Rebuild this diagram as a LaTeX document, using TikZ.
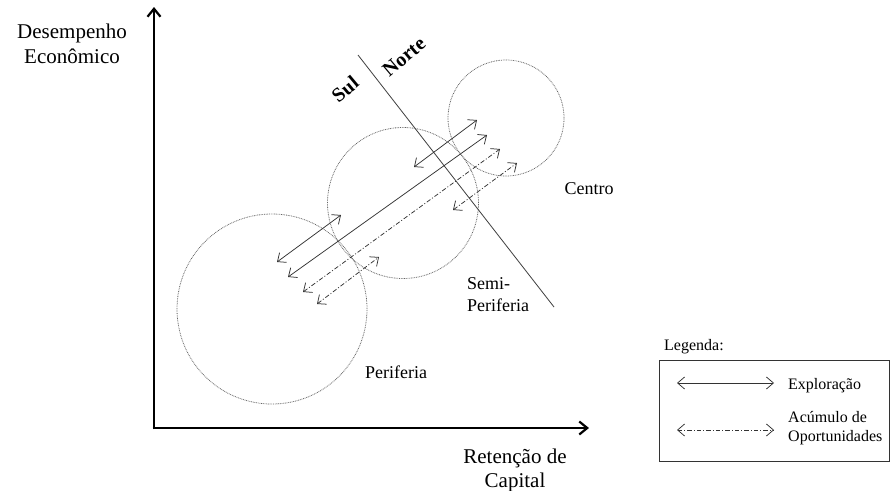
\documentclass[tikz,border=0pt]{standalone}
\usepackage{fontspec}
\setmainfont{Liberation Serif}
\usetikzlibrary{arrows.meta}
\begin{document}
\begin{tikzpicture}[x=1pt,y=-1pt,
  axis/.style={line width=2.6pt, -{Straight Barb[length=8pt,width=13pt,line width=2.2pt]}},
  ring/.style={circle, draw=black!60, line width=0.8pt, dash pattern=on 0.8pt off 0.9pt, inner sep=0},
  expl/.style={draw=black!80, line width=0.75pt, {Straight Barb[length=7pt,width=12pt]}-{Straight Barb[length=7pt,width=12pt]}},
  acum/.style={expl, dash pattern=on 4.5pt off 2pt on 1pt off 2pt},
  big/.style={font=\fontsize{21}{25}\selectfont, inner sep=0},
  mid/.style={font=\fontsize{18}{21}\selectfont, inner sep=0},
  small/.style={font=\fontsize{16}{19}\selectfont, inner sep=0},
  tag/.style={font=\bfseries\fontsize{20}{23}\selectfont, inner sep=0, rotate=40}]
\useasboundingbox (0,0) rectangle (891,490);

% axes
\coordinate (origin) at (154,428);
\coordinate (ytop) at (154,7);
\coordinate (xend) at (589,428);
\draw[axis] (154,429.3) -- (ytop);
\draw[axis] (152.7,428) -- (xend);

% axis labels
\node[big, anchor=base] (yl1) at (72,38) {Desempenho};
\node[big, anchor=base] (yl2) at (72,63) {Econômico};
\node[big, anchor=base] (xl1) at (515,463) {Retenção de};
\node[big, anchor=base] (xl2) at (515,487) {Capital};

% circles
\node[ring, minimum size=190pt] (perif) at (272,309) {};
\node[ring, minimum size=151pt] (semi) at (403,203) {};
\node[ring, minimum size=116pt] (centro) at (506,118) {};

% divider
\coordinate (d1) at (358,55);
\coordinate (d2) at (554,307);
\draw[black!75, line width=0.8pt] (d1) -- (d2);
\node[tag] (sul) at (345,89) {Sul};
\node[tag] (norte) at (404,57) {Norte};

% region labels
\node[mid, anchor=base] (lcentro) at (589,194) {Centro};
\node[mid, anchor=base west] (lsemi1) at (467,289) {Semi-};
\node[mid, anchor=base west] (lsemi2) at (467,311) {Periferia};
\node[mid, anchor=base] (lperif) at (396,378) {Periferia};

% arrows
\coordinate (a1s) at (277,262); \coordinate (a1e) at (341,215);
\coordinate (a2s) at (288,277); \coordinate (a2e) at (487,135);
\coordinate (a3s) at (414,167); \coordinate (a3e) at (477,120);
\coordinate (b1s) at (303,292); \coordinate (b1e) at (500,149);
\coordinate (b2s) at (317,304); \coordinate (b2e) at (379,257);
\coordinate (b3s) at (453,210); \coordinate (b3e) at (517,163);
\draw[expl] (a1s) -- (a1e);
\draw[expl] (a2s) -- (a2e);
\draw[expl] (a3s) -- (a3e);
\draw[acum] (b1s) -- (b1e);
\draw[acum] (b2s) -- (b2e);
\draw[acum] (b3s) -- (b3e);

% legend
\node[small, anchor=base west] (legt) at (664,350) {Legenda:};
\node[draw=black!80, line width=0.8pt, minimum width=230pt, minimum height=101pt, anchor=north west, inner sep=0] (legbox) at (659.4,360) {};
\coordinate (l1s) at (677,383); \coordinate (l1e) at (774,383);
\coordinate (l2s) at (677,430); \coordinate (l2e) at (774,430);
\draw[expl] (l1s) -- (l1e);
\draw[acum] (l2s) -- (l2e);
\node[small, anchor=base west] (lexp) at (788,389) {Exploração};
\node[small, anchor=base west] (lac1) at (788,422) {Acúmulo de};
\node[small, anchor=base west] (lac2) at (788,441) {Oportunidades};
\end{tikzpicture}
\end{document}
